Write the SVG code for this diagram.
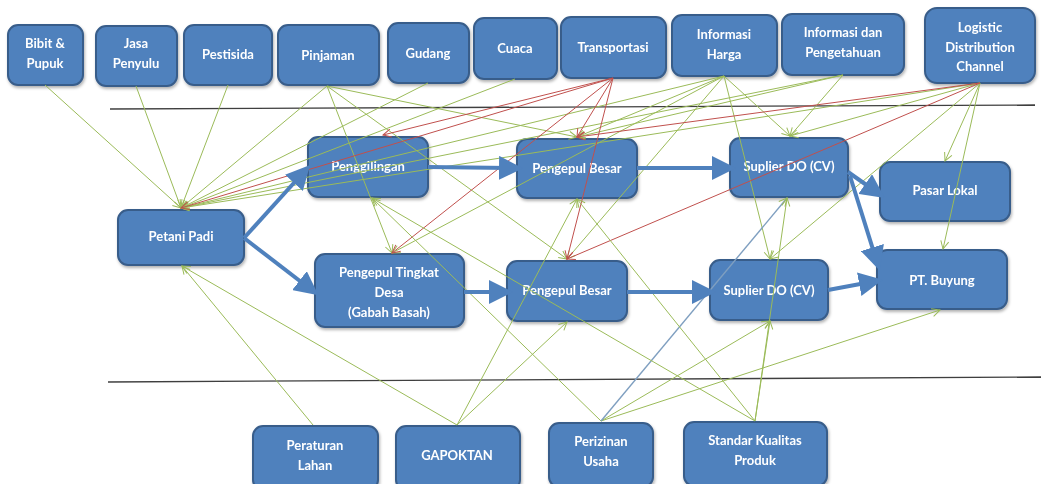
<svg xmlns="http://www.w3.org/2000/svg" width="1041" height="484" viewBox="0 0 1041 484">
  <style>
    .box { fill: #4f81bd; stroke: #385d8a; stroke-width: 2; }
    .lbl { font-family: Lato, "Liberation Sans", sans-serif; font-weight: bold; font-size: 13px; fill: #ffffff; text-anchor: middle; }
    .g { stroke: #9bbb59; stroke-width: 1; fill: none; marker-end: url(#ag); }
    .r { stroke: #c0504d; stroke-width: 1; fill: none; marker-end: url(#ar); }
    .b { stroke: #7f9fc0; stroke-width: 1.4; fill: none; marker-end: url(#ag); }
    .main { stroke: #4f81bd; stroke-width: 4; fill: none; marker-end: url(#am); }
    .rule { stroke: #3f3f3f; stroke-width: 1.3; }
  </style>
  <defs>
    <marker id="ag" viewBox="0 0 10 10" refX="9" refY="5" markerWidth="10" markerHeight="10" markerUnits="userSpaceOnUse" orient="auto">
      <path d="M1,1 L9,5 L1,9" fill="none" stroke="#9bbb59" stroke-width="1"/>
    </marker>
    <marker id="ar" viewBox="0 0 10 10" refX="9" refY="5" markerWidth="10" markerHeight="10" markerUnits="userSpaceOnUse" orient="auto">
      <path d="M1,1 L9,5 L1,9" fill="none" stroke="#c0504d" stroke-width="1"/>
    </marker>
    <marker id="am" viewBox="0 0 10 10" refX="5" refY="5" markerWidth="6" markerHeight="6" orient="auto">
      <path d="M0,0 L10,5 L0,10 Z" fill="#4f81bd"/>
    </marker>
    <filter id="sh" x="-10%" y="-10%" width="130%" height="140%">
      <feDropShadow dx="1" dy="2" stdDeviation="1.5" flood-color="#000" flood-opacity="0.3"/>
    </filter>
  </defs>

  <rect width="1041" height="484" fill="#ffffff"/>

  <!-- section rules -->
  <line class="rule" x1="110" y1="109" x2="1035" y2="105"/>
  <line class="rule" x1="108" y1="382" x2="1041" y2="377"/>

  <!-- top row: supporting factors -->
  <g id="n-bibit" filter="url(#sh)"><rect class="box" x="8" y="25" width="75" height="60" rx="10"/><text class="lbl" x="45" y="48">Bibit &amp;</text><text class="lbl" x="45" y="68">Pupuk</text></g>
  <g id="n-jasa" filter="url(#sh)"><rect class="box" x="96" y="26" width="81" height="60" rx="10"/><text class="lbl" x="136" y="48">Jasa</text><text class="lbl" x="136" y="68">Penyulu</text></g>
  <g id="n-pestisida" filter="url(#sh)"><rect class="box" x="184" y="25" width="88" height="60" rx="10"/><text class="lbl" x="228" y="59">Pestisida</text></g>
  <g id="n-pinjaman" filter="url(#sh)"><rect class="box" x="278" y="25" width="101" height="60" rx="10"/><text class="lbl" x="328" y="60">Pinjaman</text></g>
  <g id="n-gudang" filter="url(#sh)"><rect class="box" x="388" y="23" width="81" height="60" rx="10"/><text class="lbl" x="428" y="58">Gudang</text></g>
  <g id="n-cuaca" filter="url(#sh)"><rect class="box" x="474" y="18" width="83" height="61" rx="10"/><text class="lbl" x="515" y="53">Cuaca</text></g>
  <g id="n-transportasi" filter="url(#sh)"><rect class="box" x="561" y="17" width="105" height="61" rx="10"/><text class="lbl" x="613" y="52">Transportasi</text></g>
  <g id="n-infoharga" filter="url(#sh)"><rect class="box" x="672" y="15" width="105" height="61" rx="10"/><text class="lbl" x="724" y="39">Informasi</text><text class="lbl" x="724" y="59">Harga</text></g>
  <g id="n-infopeng" filter="url(#sh)"><rect class="box" x="782" y="14" width="122" height="61" rx="10"/><text class="lbl" x="843" y="37">Informasi dan</text><text class="lbl" x="843" y="57">Pengetahuan</text></g>
  <g id="n-logistic" filter="url(#sh)"><rect class="box" x="925" y="8" width="110" height="75" rx="12"/><text class="lbl" x="980" y="32">Logistic</text><text class="lbl" x="980" y="52">Distribution</text><text class="lbl" x="980" y="71">Channel</text></g>

  <!-- middle: supply chain actors -->
  <g id="n-petani" filter="url(#sh)"><rect class="box" x="118" y="210" width="126" height="55" rx="10"/><text class="lbl" x="181" y="241">Petani Padi</text></g>
  <g id="n-penggilingan" filter="url(#sh)"><rect class="box" x="308" y="137" width="120" height="60" rx="10"/><text class="lbl" x="368" y="171">Penggilingan</text></g>
  <g id="n-ptd" filter="url(#sh)"><rect class="box" x="315" y="254" width="149" height="73" rx="10"/><text class="lbl" x="389" y="277">Pengepul Tingkat</text><text class="lbl" x="389" y="297">Desa</text><text class="lbl" x="389" y="317">(Gabah Basah)</text></g>
  <g id="n-besar1" filter="url(#sh)"><rect class="box" x="517" y="139" width="120" height="59" rx="10"/><text class="lbl" x="577" y="173">Pengepul Besar</text></g>
  <g id="n-suplier1" filter="url(#sh)"><rect class="box" x="730" y="138" width="118" height="59" rx="10"/><text class="lbl" x="789" y="171">Suplier DO (CV)</text></g>
  <g id="n-pasar" filter="url(#sh)"><rect class="box" x="880" y="162" width="130" height="59" rx="10"/><text class="lbl" x="945" y="195">Pasar Lokal</text></g>
  <g id="n-besar2" filter="url(#sh)"><rect class="box" x="507" y="261" width="120" height="60" rx="10"/><text class="lbl" x="567" y="295">Pengepul Besar</text></g>
  <g id="n-suplier2" filter="url(#sh)"><rect class="box" x="710" y="260" width="118" height="60" rx="10"/><text class="lbl" x="769" y="295">Suplier DO (CV)</text></g>
  <g id="n-buyung" filter="url(#sh)"><rect class="box" x="877" y="250" width="130" height="59" rx="10"/><text class="lbl" x="942" y="285">PT. Buyung</text></g>

  <!-- bottom row: regulation and institutions -->
  <g id="n-peraturan" filter="url(#sh)"><rect class="box" x="253" y="426" width="125" height="64" rx="10"/><text class="lbl" x="315" y="450">Peraturan</text><text class="lbl" x="315" y="470">Lahan</text></g>
  <g id="n-gapoktan" filter="url(#sh)"><rect class="box" x="396" y="426" width="124" height="64" rx="10"/><text class="lbl" x="457" y="460">GAPOKTAN</text></g>
  <g id="n-perizinan" filter="url(#sh)"><rect class="box" x="549" y="423" width="104" height="64" rx="10"/><text class="lbl" x="601" y="446">Perizinan</text><text class="lbl" x="601" y="466">Usaha</text></g>
  <g id="n-standar" filter="url(#sh)"><rect class="box" x="684" y="422" width="143" height="64" rx="10"/><text class="lbl" x="755" y="445">Standar Kualitas</text><text class="lbl" x="755" y="465">Produk</text></g>

  <!-- influence links, drawn over the boxes -->
  <g id="connectors">
    <line class="g" x1="45" y1="85" x2="181" y2="208"/>
    <line class="g" x1="136" y1="86" x2="181" y2="208"/>
    <line class="g" x1="228" y1="85" x2="181" y2="208"/>
    <line class="g" x1="327" y1="86" x2="181" y2="208"/>
    <line class="g" x1="428" y1="83" x2="181" y2="208"/>
    <line class="g" x1="515" y1="79" x2="181" y2="208"/>
    <line class="g" x1="724" y1="76" x2="181" y2="208"/>
    <line class="g" x1="843" y1="75" x2="181" y2="208"/>
    <line class="g" x1="980" y1="83" x2="181" y2="208"/>
    <line class="g" x1="327" y1="86" x2="392" y2="253"/>
    <line class="g" x1="724" y1="76" x2="392" y2="253"/>
    <line class="g" x1="327" y1="86" x2="577" y2="137"/>
    <line class="g" x1="724" y1="76" x2="577" y2="137"/>
    <line class="g" x1="843" y1="75" x2="577" y2="137"/>
    <line class="g" x1="327" y1="86" x2="567" y2="259"/>
    <line class="g" x1="724" y1="76" x2="567" y2="259"/>
    <line class="g" x1="724" y1="76" x2="790" y2="136"/>
    <line class="g" x1="843" y1="75" x2="790" y2="136"/>
    <line class="g" x1="980" y1="83" x2="790" y2="136"/>
    <line class="g" x1="724" y1="76" x2="770" y2="259"/>
    <line class="g" x1="980" y1="83" x2="770" y2="259"/>
    <line class="g" x1="980" y1="83" x2="945" y2="161"/>
    <line class="g" x1="980" y1="83" x2="943" y2="249"/>

    <line class="r" x1="613" y1="78" x2="181" y2="208"/>
    <line class="r" x1="613" y1="78" x2="383" y2="135"/>
    <line class="r" x1="613" y1="78" x2="392" y2="253"/>
    <line class="r" x1="613" y1="78" x2="577" y2="137"/>
    <line class="r" x1="613" y1="78" x2="567" y2="259"/>
    <line class="r" x1="980" y1="83" x2="577" y2="137"/>
    <line class="r" x1="980" y1="83" x2="567" y2="259"/>

    <line class="g" x1="313" y1="425" x2="182" y2="266"/>
    <line class="g" x1="457" y1="425" x2="182" y2="266"/>
    <line class="g" x1="457" y1="425" x2="577" y2="199"/>
    <line class="g" x1="457" y1="425" x2="567" y2="322"/>
    <line class="g" x1="601" y1="421" x2="372" y2="198"/>
    <line class="g" x1="601" y1="421" x2="770" y2="321"/>
    <line class="g" x1="601" y1="421" x2="940" y2="310"/>
    <line class="b" x1="601" y1="421" x2="787" y2="198"/>
    <line class="g" x1="755" y1="421" x2="372" y2="198"/>
    <line class="g" x1="755" y1="421" x2="577" y2="199"/>
    <line class="g" x1="755" y1="421" x2="787" y2="198"/>
    <line class="g" x1="755" y1="421" x2="770" y2="321"/>

    <!-- supply chain flow -->
    <line class="main" x1="244" y1="238" x2="302" y2="174"/>
    <line class="main" x1="244" y1="238" x2="309" y2="288"/>
    <line class="main" x1="428" y1="167" x2="511" y2="168"/>
    <line class="main" x1="637" y1="168" x2="724" y2="168"/>
    <line class="main" x1="848" y1="172" x2="875" y2="191"/>
    <line class="main" x1="850" y1="176" x2="876" y2="259"/>
    <line class="main" x1="464" y1="292" x2="501" y2="292"/>
    <line class="main" x1="627" y1="292" x2="704" y2="292"/>
    <line class="main" x1="828" y1="290" x2="871" y2="282"/>
  </g>
</svg>
